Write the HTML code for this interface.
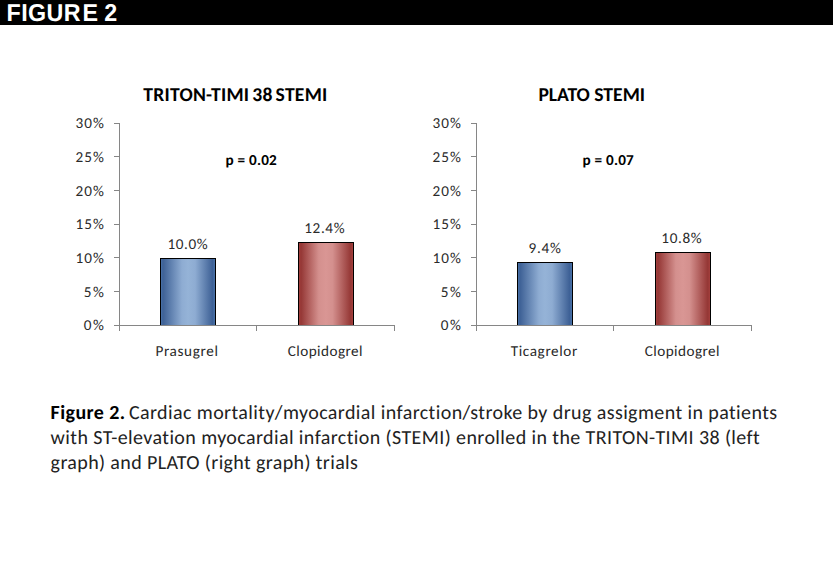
<!DOCTYPE html>
<html>
<head>
<meta charset="utf-8">
<title>Figure 2</title>
<style>
html,body{margin:0;padding:0;background:#fff;}
body{width:833px;height:587px;overflow:hidden;position:relative;}
svg{position:absolute;left:0;top:0;display:block;}
.hdr{font-family:"Liberation Sans",Arial,sans-serif;font-weight:bold;fill:#fff;font-size:24.5px;letter-spacing:0px;}
text{text-rendering:geometricPrecision;font-variant-ligatures:none;font-feature-settings:'liga' 0,'clig' 0;}
.c{font-family:Carlito,"Liberation Sans",sans-serif;fill:#000;font-size-adjust:none;}
.tk{font-size:15.2px;fill:#2a2a2a;}
.cat{font-size:15.2px;fill:#2a2a2a;}
.dl{font-size:15.2px;fill:#2a2a2a;}
.pv{font-size:15.2px;font-weight:bold;}
.ttl{font-size:19.6px;font-weight:bold;}
.cap{font-size:20px;letter-spacing:0px;fill:#222;}
.capb{fill:#000;}
.ax{stroke:#868686;stroke-width:1;fill:none;shape-rendering:crispEdges;}
.bar{stroke:#000;stroke-width:1;shape-rendering:crispEdges;}
</style>
</head>
<body>
<svg width="833" height="587" viewBox="0 0 833 587">
<defs>
<linearGradient id="gb" x1="0" y1="0" x2="1" y2="0">
<stop offset="0" stop-color="#4a75ad"/>
<stop offset="0.045" stop-color="#3e6196"/>
<stop offset="0.39" stop-color="#8eacd2"/>
<stop offset="0.5" stop-color="#95b3d7"/>
<stop offset="0.63" stop-color="#8eacd2"/>
<stop offset="0.945" stop-color="#3e6196"/>
<stop offset="1" stop-color="#4a75ad"/>
</linearGradient>
<linearGradient id="gr" x1="0" y1="0" x2="1" y2="0">
<stop offset="0" stop-color="#a8423f"/>
<stop offset="0.045" stop-color="#953735"/>
<stop offset="0.37" stop-color="#d4908e"/>
<stop offset="0.5" stop-color="#d99694"/>
<stop offset="0.62" stop-color="#d4908e"/>
<stop offset="0.95" stop-color="#953735"/>
<stop offset="1" stop-color="#a8423f"/>
</linearGradient>
</defs>
<rect x="0" y="0" width="833" height="25" fill="#000"/>
<text class="hdr" transform="scale(0.95,1)" x="6.74 22.46 29.42 49.05 67.2 86.88 100 109.67" y="21.2">FIGURE 2</text>
<text class="c ttl" x="235.4" y="101" text-anchor="middle" textLength="184.171875" lengthAdjust="spacingAndGlyphs" style="letter-spacing:0.25px;word-spacing:-1.7px">TRITON-TIMI 38 STEMI</text>
<text class="c pv" x="251.305" y="165" text-anchor="middle" textLength="51.409" lengthAdjust="spacingAndGlyphs" style="letter-spacing:0.2094px">p = 0.02</text>
<text class="c tk" x="104.917" y="128.2" text-anchor="end" textLength="29.317" lengthAdjust="spacingAndGlyphs" style="letter-spacing:1.0172px">30%</text>
<text class="c tk" x="104.917" y="161.9" text-anchor="end" textLength="29.317" lengthAdjust="spacingAndGlyphs" style="letter-spacing:1.0172px">25%</text>
<text class="c tk" x="104.917" y="195.5" text-anchor="end" textLength="29.317" lengthAdjust="spacingAndGlyphs" style="letter-spacing:1.0172px">20%</text>
<text class="c tk" x="104.917" y="229.2" text-anchor="end" textLength="29.317" lengthAdjust="spacingAndGlyphs" style="letter-spacing:1.0172px">15%</text>
<text class="c tk" x="104.917" y="262.9" text-anchor="end" textLength="29.317" lengthAdjust="spacingAndGlyphs" style="letter-spacing:1.0172px">10%</text>
<text class="c tk" x="105.438" y="296.5" text-anchor="end" textLength="21.638" lengthAdjust="spacingAndGlyphs" style="letter-spacing:1.5375px">5%</text>
<text class="c tk" x="105.438" y="330.2" text-anchor="end" textLength="21.638" lengthAdjust="spacingAndGlyphs" style="letter-spacing:1.5375px">0%</text>
<rect class="bar" x="160.5" y="258.5" width="55" height="67" fill="url(#gb)"/>
<rect class="bar" x="298.5" y="242.5" width="55" height="83" fill="url(#gr)"/>
<path class="ax" transform="translate(0,0)" d="M119.5 123V331M114 123.5H119M114 156.5H119M114 190.5H119M114 224.5H119M114 257.5H119M114 291.5H119M114 325.5H119M119 325.5H395M256.5 326V331M394.5 326V331"/>
<text class="c dl" x="187.8" y="249" text-anchor="middle" textLength="40.801" lengthAdjust="spacingAndGlyphs" style="letter-spacing:0.6008px">10.0%</text>
<text class="c cat" x="187.018" y="356" text-anchor="middle" textLength="63.036" lengthAdjust="spacingAndGlyphs" style="letter-spacing:0.6359px">Prasugrel</text>
<text class="c dl" x="324.7" y="233" text-anchor="middle" textLength="40.801" lengthAdjust="spacingAndGlyphs" style="letter-spacing:0.6008px">12.4%</text>
<text class="c cat" x="325.368" y="356" text-anchor="middle" textLength="75.136" lengthAdjust="spacingAndGlyphs" style="letter-spacing:0.4356px">Clopidogrel</text>
<text class="c ttl" x="591.7" y="101" text-anchor="middle" textLength="106.59375" lengthAdjust="spacingAndGlyphs">PLATO STEMI</text>
<text class="c pv" x="608.305" y="165" text-anchor="middle" textLength="51.409" lengthAdjust="spacingAndGlyphs" style="letter-spacing:0.2094px">p = 0.07</text>
<text class="c tk" x="461.917" y="128.2" text-anchor="end" textLength="29.317" lengthAdjust="spacingAndGlyphs" style="letter-spacing:1.0172px">30%</text>
<text class="c tk" x="461.917" y="161.9" text-anchor="end" textLength="29.317" lengthAdjust="spacingAndGlyphs" style="letter-spacing:1.0172px">25%</text>
<text class="c tk" x="461.917" y="195.5" text-anchor="end" textLength="29.317" lengthAdjust="spacingAndGlyphs" style="letter-spacing:1.0172px">20%</text>
<text class="c tk" x="461.917" y="229.2" text-anchor="end" textLength="29.317" lengthAdjust="spacingAndGlyphs" style="letter-spacing:1.0172px">15%</text>
<text class="c tk" x="461.917" y="262.9" text-anchor="end" textLength="29.317" lengthAdjust="spacingAndGlyphs" style="letter-spacing:1.0172px">10%</text>
<text class="c tk" x="462.438" y="296.5" text-anchor="end" textLength="21.638" lengthAdjust="spacingAndGlyphs" style="letter-spacing:1.5375px">5%</text>
<text class="c tk" x="462.438" y="330.2" text-anchor="end" textLength="21.638" lengthAdjust="spacingAndGlyphs" style="letter-spacing:1.5375px">0%</text>
<rect class="bar" x="517.5" y="262.5" width="55" height="63" fill="url(#gb)"/>
<rect class="bar" x="655.5" y="252.5" width="55" height="73" fill="url(#gr)"/>
<path class="ax" transform="translate(357,0)" d="M119.5 123V331M114 123.5H119M114 156.5H119M114 190.5H119M114 224.5H119M114 257.5H119M114 291.5H119M114 325.5H119M119 325.5H395M256.5 326V331M394.5 326V331"/>
<text class="c dl" x="545.084" y="253" text-anchor="middle" textLength="33.169" lengthAdjust="spacingAndGlyphs" style="letter-spacing:0.7687px">9.4%</text>
<text class="c cat" x="544.309" y="356" text-anchor="middle" textLength="67.217" lengthAdjust="spacingAndGlyphs" style="letter-spacing:0.6170px">Ticagrelor</text>
<text class="c dl" x="681.75" y="243" text-anchor="middle" textLength="40.801" lengthAdjust="spacingAndGlyphs" style="letter-spacing:0.6008px">10.8%</text>
<text class="c cat" x="682.368" y="356" text-anchor="middle" textLength="75.136" lengthAdjust="spacingAndGlyphs" style="letter-spacing:0.4356px">Clopidogrel</text>

<text class="c cap" x="50.6" y="419" textLength="726.890625" lengthAdjust="spacingAndGlyphs" style="letter-spacing:0.404px"><tspan class="capb" font-weight="bold">Figure 2.</tspan> <tspan dx="-1.5">Cardiac</tspan> mortality/myocardial infarction/stroke by drug assigment in patients</text>
<text class="c cap" x="50.6" y="444" textLength="709.53125" lengthAdjust="spacingAndGlyphs" style="letter-spacing:0.399px">with ST-elevation myocardial infarction (STEMI) enrolled in the TRITON-TIMI 38 (left</text>
<text class="c cap" x="50.6" y="469" textLength="307.65625" lengthAdjust="spacingAndGlyphs" style="letter-spacing:0.37px">graph) and PLATO (right graph) trials</text>
</svg>
</body>
</html>
